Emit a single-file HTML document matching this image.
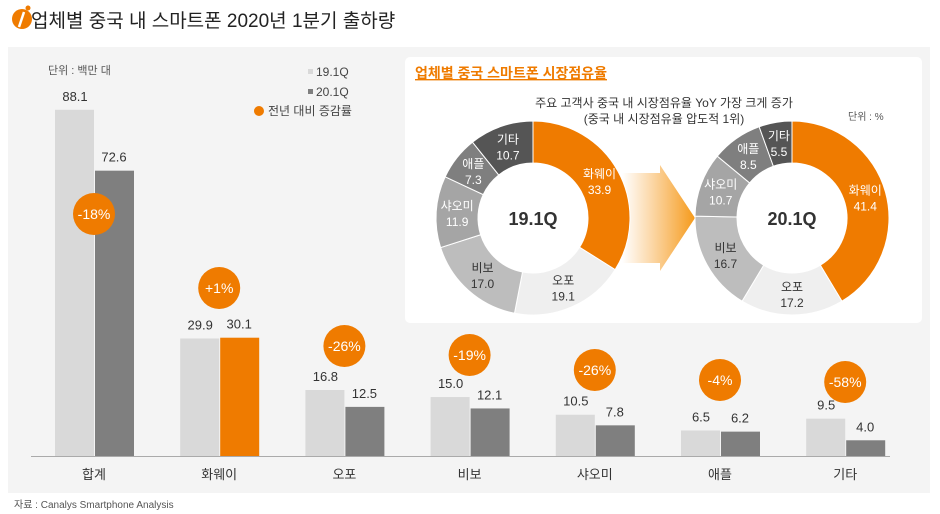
<!DOCTYPE html>
<html><head><meta charset="utf-8">
<style>
body{margin:0;background:#fff;font-family:"Liberation Sans","Noto Sans CJK KR",sans-serif;}
#wrap{position:relative;width:940px;height:514px;overflow:hidden;background:#fff}
svg text{font-family:"Liberation Sans","Noto Sans CJK KR",sans-serif;}
</style></head><body>
<div id="wrap">
<svg id="chart" width="940" height="514">
<defs>
<linearGradient id="ag" x1="0" x2="1" y1="0" y2="0">
<stop offset="0" stop-color="#f7a030" stop-opacity="0"/>
<stop offset="1" stop-color="#f59a1a" stop-opacity="1"/>
</linearGradient>
</defs>
<g>
<circle cx="22" cy="19" r="10" fill="#ef7b00"/>
<circle cx="28" cy="8" r="2.5" fill="#ef7b00"/>
<path d="M24 12 L19 27" stroke="#fff" stroke-width="2.5"/>
<text x="31" y="27" font-size="19" fill="#222">업체별 중국 내 스마트폰 2020년 1분기 출하량</text>
</g>
<rect x="8" y="47" width="922" height="446" fill="#f4f4f4"/>
<text x="48" y="74" font-size="11" fill="#555">단위 : 백만 대</text>
<g>
<rect x="308" y="69" width="5" height="5" fill="#d9d9d9"/>
<text x="316" y="76" font-size="12" fill="#444">19.1Q</text>
<rect x="308" y="89" width="5" height="5" fill="#7f7f7f"/>
<text x="316" y="96" font-size="12" fill="#444">20.1Q</text>
<circle cx="259" cy="111" r="5" fill="#ef7b00"/>
<text x="268" y="115" font-size="12" fill="#444">전년 대비 증감률</text>
</g>
<line x1="31" y1="456.5" x2="890" y2="456.5" stroke="#aaa" stroke-width="1"/>
<g id="bars"></g>
<rect x="405" y="57" width="517" height="266" rx="5" fill="#fff"/>
<text x="415" y="78" font-size="14" font-weight="bold" fill="#ef7b00" text-decoration="underline">업체별 중국 스마트폰 시장점유율</text>
<text x="664" y="107" font-size="12" fill="#333" text-anchor="middle">주요 고객사 중국 내 시장점유율 YoY 가장 크게 증가</text>
<text x="664" y="123" font-size="12" fill="#333" text-anchor="middle">(중국 내 시장점유율 압도적 1위)</text>
<text x="848" y="120" font-size="10" fill="#555">단위 : %</text>
<path d="M622 173 L660 173 L660 165 L695 218 L660 271 L660 263 L622 263 Z" fill="url(#ag)"/>
<g id="donuts"></g>
<text x="14" y="508" font-size="10" fill="#555">자료 : Canalys Smartphone Analysis</text>
</svg>
</div>
<script>
const categories=["합계","화웨이","오포","비보","샤오미","애플","기타"];
const values19=[88.1,29.9,16.8,15.0,10.5,6.5,9.5];
const values20=[72.6,30.1,12.5,12.1,7.8,6.2,4.0];
const yoyLabels=["-18%","+1%","-26%","-19%","-26%","-4%","-58%"];
const yoyCircleY=[214,288,346,355,370,380,382];
const shareNames=["화웨이","오포","비보","샤오미","애플","기타"];
const share19=[33.9,19.1,17.0,11.9,7.3,10.7];
const share20=[41.4,17.2,16.7,10.7,8.5,5.5];
const NS="http://www.w3.org/2000/svg";
function mk(t,a,p){const e=document.createElementNS(NS,t);for(const k in a)e.setAttribute(k,a[k]);p.appendChild(e);return e;}
const base=456,scale=3.93;
function xc(i){return 94+i*125.2;}
function yv(v){return base-v*scale;}
const bars=document.getElementById('bars');
categories.forEach((c,i)=>{
  const x=xc(i);
  const b1=mk('rect',{x:x-39,y:yv(values19[i]),width:39,height:base-yv(values19[i]),fill:'#d9d9d9'},bars);
  
  
  const b2=mk('rect',{x:x+1,y:yv(values20[i]),width:39,height:base-yv(values20[i]),fill:i==1?'#ef7b00':'#7f7f7f'},bars);
  
  
  const t1=mk('text',{x:x-19,y:yv(values19[i])-9,'font-size':13,fill:'#333','text-anchor':'middle'},bars);
  t1.textContent=values19[i].toFixed(1);
  
  
  const t2=mk('text',{x:x+20,y:yv(values20[i])-9,'font-size':13,fill:'#333','text-anchor':'middle'},bars);
  t2.textContent=values20[i].toFixed(1);
  
  
  const cl=mk('text',{x:x,y:479,'font-size':13,fill:'#333','text-anchor':'middle'},bars);
  cl.textContent=c;
  
  
  const ci=mk('circle',{cx:x,cy:yoyCircleY[i],r:21,fill:'#ef7b00'},bars);
  
  
  const ct=mk('text',{x:x,y:yoyCircleY[i]+5,'font-size':14,fill:'#fff','text-anchor':'middle'},bars);
  ct.textContent=yoyLabels[i];
  
  
});
const colors=['#ef7b00','#efefef','#bdbdbd','#a5a5a5','#7f7f7f','#555555'];
const txtCol=['#fff','#333','#333','#fff','#fff','#fff'];
const dn=document.getElementById('donuts');
function donut(cx,cy,vals,label,id){
  const R=97,r=55,tot=vals.reduce((a,b)=>a+b,0);let a0=0;
  vals.forEach((v,i)=>{
    const a1=a0+v/tot*2*Math.PI;
    const p=(a,rad)=>[cx+rad*Math.sin(a),cy-rad*Math.cos(a)];
    const [x1,y1]=p(a0,R),[x2,y2]=p(a1,R),[x3,y3]=p(a1,r),[x4,y4]=p(a0,r);
    const lg=(a1-a0)>Math.PI?1:0;
    const s=mk('path',{d:`M${x1} ${y1} A${R} ${R} 0 ${lg} 1 ${x2} ${y2} L${x3} ${y3} A${r} ${r} 0 ${lg} 0 ${x4} ${y4} Z`,fill:colors[i],stroke:'#fff','stroke-width':1},dn);
    
    
    const am=(a0+a1)/2,[lx,ly]=p(am,(R+r)/2);
    const t=mk('text',{x:lx,y:ly-3,'font-size':12,fill:txtCol[i],'text-anchor':'middle'},dn);
    t.textContent=shareNames[i];
    
    
    const t2=mk('text',{x:lx,y:ly+13,'font-size':12,fill:txtCol[i],'text-anchor':'middle'},dn);
    t2.textContent=v.toFixed(1);
    
    
    a0=a1;
  });
  const c=mk('text',{x:cx,y:cy+7,'font-size':18,'font-weight':'bold',fill:'#333','text-anchor':'middle'},dn);
  c.textContent=label;
  
  
}
donut(533,218,share19,'19.1Q','donut-19q');
donut(792,218,share20,'20.1Q','donut-20q');
</script>
</body></html>
